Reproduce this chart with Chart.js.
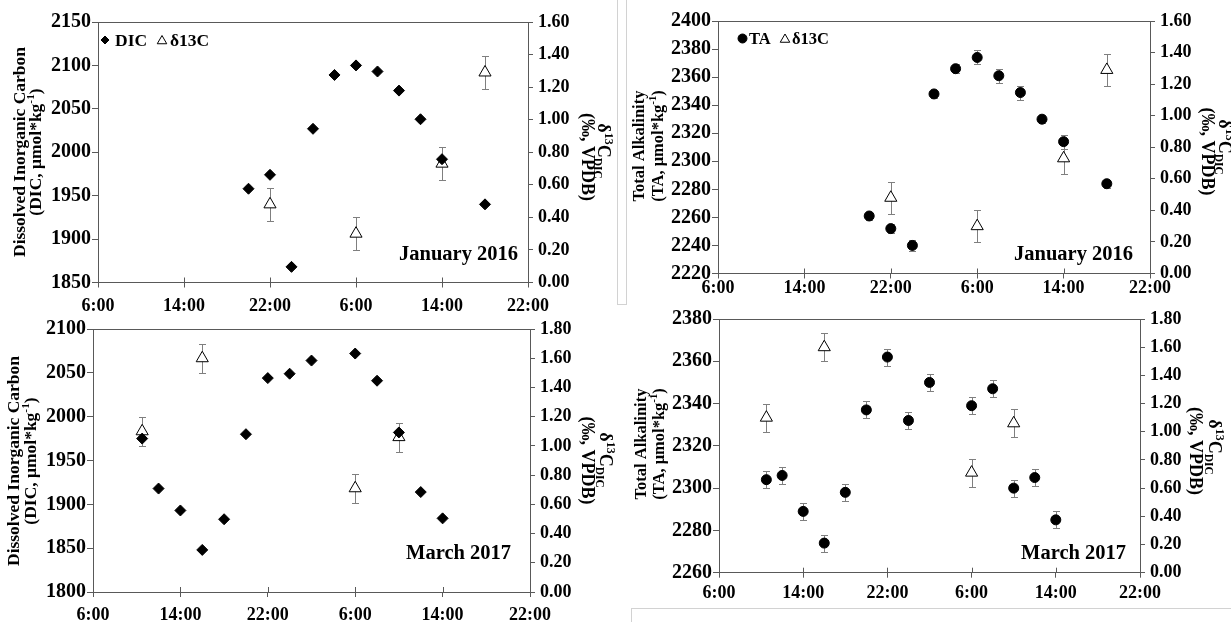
<!DOCTYPE html>
<html>
<head>
<meta charset="utf-8">
<script src="https://cdn.jsdelivr.net/npm/chart.js@4.4.1/dist/chart.umd.min.js"></script>
<style>
  html, body { margin: 0; padding: 0; background: #fff; }
  #wrap { position: relative; width: 1231px; height: 622px; overflow: hidden; background: #fff; }
  #wrap canvas { position: absolute; left: 0; top: 0; }
  .rule { position: absolute; background: #d2d2d2; }
</style>
</head>
<body>
<div id="wrap">
  <canvas id="dicJan" width="1231" height="700"></canvas>
  <canvas id="taJan" width="1231" height="700"></canvas>
  <canvas id="dicMar" width="1231" height="700"></canvas>
  <canvas id="taMar" width="1231" height="700"></canvas>
  <div class="rule" style="left:617px;top:0;width:1px;height:304px"></div>
  <div class="rule" style="left:626px;top:0;width:1px;height:304px"></div>
  <div class="rule" style="left:617px;top:304px;width:10px;height:1px"></div>
  <div class="rule" style="left:631px;top:608px;width:600px;height:1px"></div>
  <div class="rule" style="left:631px;top:608px;width:1px;height:14px"></div>
</div>
<script>
// ---- time axis (hours counted from 0:00 of the first sampling day) ----
const xTickHours = [6, 14, 22, 30, 38, 46];

// ---- January 2016 ----
const janHours = [20, 22, 24, 26, 28, 30, 32, 34, 36, 38, 42];
const janDIC = [1958, 1974, 1868, 2027, 2089, 2100, 2093, 2071, 2038, 1992, 1940];
const janTA = [2261, 2252, 2240, 2348, 2366, 2374, 2361, 2349, 2330, 2314, 2284];
const janTAErr = [3, 3, 4, 3, 3, 5, 5, 5, 3, 5, 3];
const janIsoHours = [22, 30, 38, 42];
const janIso = [0.48, 0.30, 0.73, 1.29];
const janIsoErr = [0.10, 0.10, 0.10, 0.10];

// ---- March 2017 ----
const marHours = [10.5, 12, 14, 16, 18, 20, 22, 24, 26, 30, 32, 34, 36, 38];
const marDIC = [1975, 1918, 1893, 1848, 1883, 1980, 2044, 2049, 2064, 2072, 2041, 1982, 1914, 1884];
const marTA = [2304, 2306, 2289, 2274, 2298, 2337, 2362, 2332, 2350, 2339, 2347, 2300, 2305, 2285];
const marTAErr = [4, 4, 4, 4, 4, 4, 4, 4, 4, 4, 4, 4, 4, 4];
const marIsoHours = [10.5, 16, 30, 34];
const marIso = [1.10, 1.60, 0.71, 1.06];
const marIsoErr = [0.10, 0.10, 0.10, 0.10];

// ---- axis ranges [min, max, step] ----
const dicJanAxis = [1850, 2150, 50];
const taJanAxis = [2220, 2400, 20];
const dicMarAxis = [1800, 2100, 50];
const taMarAxis = [2260, 2380, 20];
const isoJanAxis = [0, 1.6, 0.2];
const isoMarAxis = [0, 1.8, 0.2];

const FAMILY = "'Liberation Serif', 'Times New Roman', serif";
const AXIS = '#595959';
const ERR = '#7f7f7f';
Chart.defaults.font.family = FAMILY;
Chart.defaults.color = '#000';

// canvases are a little taller than the page so the time labels of the lower row have room
const W = 1231, H = 700, AXW = 70, XH = 45;

function fixVertical(scale) { scale.width = AXW; scale.paddingTop = 0; scale.paddingBottom = 0; }
function fixHorizontal(scale) { scale.height = XH; scale.paddingLeft = 0; scale.paddingRight = 0; }

// text made of runs of different size / vertical shift, centred on (x, y) and rotated
function drawRich(ctx, runs, x, y, rot) {
  ctx.save();
  ctx.translate(x, y);
  ctx.rotate(rot);
  ctx.textAlign = 'left';
  ctx.textBaseline = 'alphabetic';
  ctx.fillStyle = '#000';
  let total = 0;
  runs.forEach(r => { ctx.font = `bold ${r.s}px ${FAMILY}`; r.w = ctx.measureText(r.t).width; total += r.w; });
  let cx = -total / 2;
  runs.forEach(r => { ctx.font = `bold ${r.s}px ${FAMILY}`; ctx.fillText(r.t, cx, r.dy || 0); cx += r.w; });
  ctx.restore();
}

function decor(p) {
  return {
    id: 'decor',
    beforeDatasetsDraw(chart) {
      const ctx = chart.ctx, xs = chart.scales.x;
      chart.data.datasets.forEach(ds => {
        if (!ds.errorBars) return;
        const ys = chart.scales[ds.yAxisID];
        ctx.save();
        ctx.strokeStyle = ERR;
        ctx.lineWidth = 1;
        ds.data.forEach((pt, i) => {
          const e = ds.errorBars[i];
          const px = Math.round(xs.getPixelForValue(pt.x)) + 0.5;
          const top = Math.round(ys.getPixelForValue(pt.y + e)) + 0.5;
          const bot = Math.round(ys.getPixelForValue(pt.y - e)) + 0.5;
          ctx.beginPath();
          ctx.moveTo(px, top); ctx.lineTo(px, bot);
          ctx.moveTo(px - 3.5, top); ctx.lineTo(px + 3.5, top);
          ctx.moveTo(px - 3.5, bot); ctx.lineTo(px + 3.5, bot);
          ctx.stroke();
        });
        ctx.restore();
      });
    },
    afterDraw(chart) {
      const ctx = chart.ctx, ca = chart.chartArea, xs = chart.scales.x;
      ctx.save();
      // frame top and inner halves of the time ticks
      ctx.strokeStyle = AXIS;
      ctx.lineWidth = 1;
      ctx.beginPath();
      ctx.moveTo(ca.left, Math.round(ca.top) + 0.5);
      ctx.lineTo(ca.right, Math.round(ca.top) + 0.5);
      xs.ticks.forEach((t, i) => {
        if (i === 0 || i === xs.ticks.length - 1) return;
        const px = Math.round(xs.getPixelForValue(t.value)) + 0.5;
        ctx.moveTo(px, ca.bottom - 5);
        ctx.lineTo(px, ca.bottom);
      });
      ctx.stroke();

      // axis titles
      p.leftTitle.forEach(l => drawRich(ctx, l.runs, l.x, l.y, -Math.PI / 2));
      p.rightTitle.forEach(l => drawRich(ctx, l.runs, l.x, l.y, Math.PI / 2));

      // sampling campaign
      ctx.font = `bold ${p.month.s}px ${FAMILY}`;
      ctx.fillStyle = '#000';
      ctx.textAlign = 'right';
      ctx.textBaseline = 'alphabetic';
      ctx.fillText(p.month.t, p.month.x, p.month.y);

      // key
      if (p.key) {
        p.key.forEach(k => {
          ctx.fillStyle = k.fill;
          ctx.strokeStyle = '#000';
          ctx.lineWidth = 1;
          Chart.helpers.drawPoint(ctx, { pointStyle: k.style, radius: k.r, rotation: 0, borderWidth: 1 }, k.mx, k.my);
          ctx.fillStyle = '#000';
          ctx.font = `bold ${k.s}px ${FAMILY}`;
          ctx.textAlign = 'left';
          ctx.fillText(k.t, k.tx, k.ty);
        });
      }
      ctx.restore();
    }
  };
}

function buildPanel(id, p) {
  const a = p.area;
  const padding = { left: a.left - AXW, right: W - a.right - AXW, top: a.top, bottom: H - a.bottom - XH };
  const datasets = [
    {
      label: p.mainLabel,
      data: p.mainHours.map((h, i) => ({ x: h, y: p.mainValues[i] })),
      yAxisID: 'y',
      pointStyle: p.mainStyle,
      pointRadius: p.mainRadius,
      pointBackgroundColor: '#000',
      pointBorderColor: '#000',
      pointBorderWidth: 1,
      showLine: false,
      errorBars: p.mainErr
    },
    {
      label: 'δ13C',
      data: p.isoHours.map((h, i) => ({ x: h, y: p.isoValues[i] })),
      yAxisID: 'y2',
      pointStyle: 'triangle',
      pointRadius: 7,
      pointBackgroundColor: '#fff',
      pointBorderColor: '#000',
      pointBorderWidth: 1,
      showLine: false,
      errorBars: p.isoErr
    }
  ];
  return new Chart(document.getElementById(id), {
    type: 'scatter',
    data: { datasets },
    options: {
      responsive: false,
      animation: false,
      devicePixelRatio: 1,
      events: [],
      layout: { padding },
      plugins: { legend: { display: false }, tooltip: { enabled: false }, title: { display: false } },
      scales: {
        x: {
          type: 'linear',
          position: 'bottom',
          min: xTickHours[0],
          max: xTickHours[xTickHours.length - 1],
          afterBuildTicks: s => { s.ticks = xTickHours.map(v => ({ value: v })); },
          afterFit: fixHorizontal,
          ticks: {
            autoSkip: false, maxRotation: 0, color: '#000', padding: p.xPad,
            font: { size: 18, weight: 'bold' },
            callback: v => `${v % 24}:00`
          },
          grid: { drawOnChartArea: false, drawTicks: true, tickLength: 5, color: AXIS },
          border: { display: true, color: AXIS, width: 1 }
        },
        y: {
          type: 'linear',
          position: 'left',
          min: p.leftAxis[0], max: p.leftAxis[1],
          afterFit: fixVertical,
          ticks: {
            stepSize: p.leftAxis[2], autoSkip: false, color: '#000', padding: 1,
            font: { size: 20, weight: 'bold' },
            callback: v => String(v)
          },
          grid: { drawOnChartArea: false, drawTicks: true, tickLength: 6, color: AXIS },
          border: { display: true, color: AXIS, width: 1 }
        },
        y2: {
          type: 'linear',
          position: 'right',
          min: p.rightAxis[0], max: p.rightAxis[1],
          afterFit: fixVertical,
          ticks: {
            stepSize: p.rightAxis[2], autoSkip: false, color: '#000', padding: 5,
            font: { size: 18, weight: 'bold' },
            callback: v => v.toFixed(2)
          },
          grid: { drawOnChartArea: false, drawTicks: true, tickLength: 5, color: AXIS },
          border: { display: true, color: AXIS, width: 1 }
        }
      }
    },
    plugins: [decor(p)]
  });
}

function isoTitle(x1, y1, x2, y2) {
  return [
    { x: x1, y: y1, runs: [{ t: 'δ', s: 18 }, { t: '13', s: 12, dy: -7 }, { t: 'C', s: 18 }, { t: 'DIC', s: 11.5, dy: 4 }] },
    { x: x2, y: y2, runs: [{ t: '(‰, VPDB)', s: 18 }] }
  ];
}

function dicTitle(x1, x2, y, s) {
  return [
    { x: x1, y, runs: [{ t: 'Dissolved Inorganic Carbon', s }] },
    { x: x2, y, runs: [{ t: '(DIC, μmol*kg', s }, { t: '-1', s: s * 0.65, dy: -7 }, { t: ')', s }] }
  ];
}

function taTitle(x1, x2, y, s) {
  return [
    { x: x1, y, runs: [{ t: 'Total Alkalinity', s }] },
    { x: x2, y, runs: [{ t: '(TA, μmol*kg', s }, { t: '-1', s: s * 0.65, dy: -6.5 }, { t: ')', s }] }
  ];
}

buildPanel('dicJan', {
  area: { left: 98, right: 528, top: 22, bottom: 282.5 },
  xPad: 8,
  leftAxis: dicJanAxis, rightAxis: isoJanAxis,
  mainLabel: 'DIC', mainHours: janHours, mainValues: janDIC, mainErr: null,
  mainStyle: 'rectRot', mainRadius: 5.5,
  isoHours: janIsoHours, isoValues: janIso, isoErr: janIsoErr,
  leftTitle: dicTitle(24.5, 41, 152, 17.5),
  rightTitle: isoTitle(597.5, 151, 582, 157),
  month: { t: 'January 2016', s: 20.5, x: 518, y: 260 },
  key: [
    { style: 'rectRot', r: 4, fill: '#000', mx: 105, my: 40, t: 'DIC', s: 17.5, tx: 115, ty: 46 },
    { style: 'triangle', r: 5.5, fill: '#fff', mx: 162, my: 41, t: 'δ13C', s: 17.5, tx: 170, ty: 46 }
  ]
});

buildPanel('taJan', {
  area: { left: 718, right: 1150, top: 21, bottom: 273.5 },
  xPad: -1,
  leftAxis: taJanAxis, rightAxis: isoJanAxis,
  mainLabel: 'TA', mainHours: janHours, mainValues: janTA, mainErr: janTAErr,
  mainStyle: 'circle', mainRadius: 5,
  isoHours: janIsoHours, isoValues: janIso, isoErr: janIsoErr,
  leftTitle: taTitle(644, 662.5, 146, 16.5),
  rightTitle: isoTitle(1219, 147, 1202, 151.5),
  month: { t: 'January 2016', s: 20.5, x: 1133, y: 260 },
  key: [
    { style: 'circle', r: 4.5, fill: '#000', mx: 742.5, my: 38.5, t: 'TA', s: 16.5, tx: 749, ty: 43.5 },
    { style: 'triangle', r: 5.5, fill: '#fff', mx: 785, my: 39.5, t: 'δ13C', s: 16.5, tx: 792, ty: 43.5 }
  ]
});

buildPanel('dicMar', {
  area: { left: 93, right: 530, top: 329, bottom: 592 },
  xPad: 8,
  leftAxis: dicMarAxis, rightAxis: isoMarAxis,
  mainLabel: 'DIC', mainHours: marHours, mainValues: marDIC, mainErr: null,
  mainStyle: 'rectRot', mainRadius: 5.5,
  isoHours: marIsoHours, isoValues: marIso, isoErr: marIsoErr,
  leftTitle: dicTitle(19, 35.5, 461, 17.5),
  rightTitle: isoTitle(599.5, 460, 582, 460.5),
  month: { t: 'March 2017', s: 20.5, x: 511, y: 559 },
  key: null
});

buildPanel('taMar', {
  area: { left: 719, right: 1140, top: 319, bottom: 572.7 },
  xPad: 5,
  leftAxis: taMarAxis, rightAxis: isoMarAxis,
  mainLabel: 'TA', mainHours: marHours, mainValues: marTA, mainErr: marTAErr,
  mainStyle: 'circle', mainRadius: 5,
  isoHours: marIsoHours, isoValues: marIso, isoErr: marIsoErr,
  leftTitle: taTitle(646, 663.5, 444, 16.5),
  rightTitle: isoTitle(1209, 447, 1190, 451),
  month: { t: 'March 2017', s: 20.5, x: 1126, y: 559 },
  key: null
});
</script>
</body>
</html>
